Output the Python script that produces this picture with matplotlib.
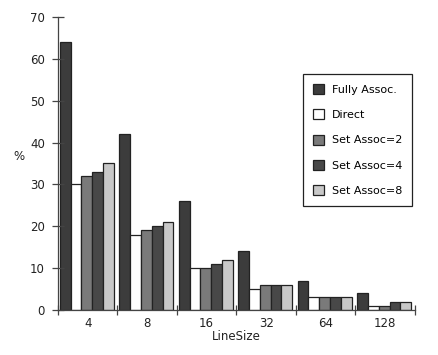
import matplotlib.pyplot as plt
import numpy as np

# Cache miss rate (%) per line size, per cache organisation
line_sizes = ['4', '8', '16', '32', '64', '128']
series_names = ['Fully Assoc.', 'Direct', 'Set Assoc=2', 'Set Assoc=4', 'Set Assoc=8']
fully_assoc = [64, 42, 26, 14, 7, 4]
direct = [30, 18, 10, 5, 3, 1]
set_assoc2 = [32, 19, 10, 6, 3, 1]
set_assoc4 = [33, 20, 11, 6, 3, 2]
set_assoc8 = [35, 21, 12, 6, 3, 2]

values = [fully_assoc, direct, set_assoc2, set_assoc4, set_assoc8]
colors = ['#3c3c3c', '#ffffff', '#7a7a7a', '#484848', '#c8c8c8']

plt.rcParams['font.family'] = 'DejaVu Sans'
fig = plt.figure(figsize=(4.39, 3.55), dpi=100)
ax = fig.add_axes([0.132, 0.127, 0.813, 0.825])

x = np.arange(len(line_sizes))
bw = 0.182
for j in range(len(values)):
    left = x - 0.5 + 0.03 + j*bw
    ax.bar(left, values[j], bw, align='edge', color=colors[j], edgecolor='#222222',
           linewidth=0.9, label=series_names[j])

ax.set_xlim(-0.5, len(line_sizes) - 0.5)
ax.set_ylim(0, 70)
ax.set_yticks(np.arange(0, 71, 10))
ax.set_xticks(x)
ax.set_xticklabels(line_sizes)
ax.set_xticks(np.arange(-0.5, len(line_sizes)), minor=True)
ax.tick_params(axis='x', which='major', length=0, pad=5, labelsize=8.5, colors='#222222')
ax.tick_params(axis='x', which='minor', direction='inout', length=7, width=0.9, color='#444444')
ax.tick_params(axis='y', direction='inout', length=9, width=0.9, pad=5, labelsize=8.5,
               color='#444444', labelcolor='#222222')

for s in ['top', 'right']:
    ax.spines[s].set_visible(False)
for s in ['left', 'bottom']:
    ax.spines[s].set_color('#444444')
    ax.spines[s].set_linewidth(0.9)

ax.set_xlabel('LineSize', fontsize=8.5, color='#222222', labelpad=0)
ax.set_ylabel('%', fontsize=8.5, rotation=0, color='#222222', labelpad=8)
ax.yaxis.set_label_coords(-0.11, 0.50)

leg = ax.legend(loc='upper left', bbox_to_anchor=(0.686, 0.805), fontsize=8,
                fancybox=False, edgecolor='#222222', framealpha=1,
                handlelength=1.0, handleheight=1.0, labelspacing=1.3,
                borderpad=0.9, handletextpad=0.7, borderaxespad=0)
leg.get_frame().set_linewidth(0.9)

fig.savefig('out.png', dpi=100)
